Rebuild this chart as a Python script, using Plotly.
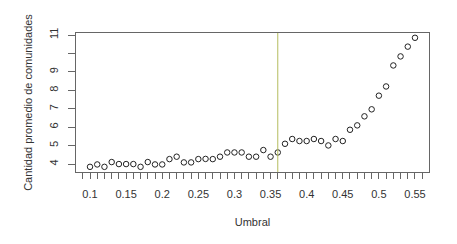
import plotly.graph_objects as go

umbral = [0.10, 0.11, 0.12, 0.13, 0.14, 0.15, 0.16, 0.17, 0.18, 0.19,
          0.20, 0.21, 0.22, 0.23, 0.24, 0.25, 0.26, 0.27, 0.28, 0.29,
          0.30, 0.31, 0.32, 0.33, 0.34, 0.35, 0.36, 0.37, 0.38, 0.39,
          0.40, 0.41, 0.42, 0.43, 0.44, 0.45, 0.46, 0.47, 0.48, 0.49,
          0.50, 0.51, 0.52, 0.53, 0.54, 0.55]
comunidades = [3.85, 3.98, 3.85, 4.11, 4.00, 4.00, 4.00, 3.85, 4.11, 3.98,
               3.98, 4.27, 4.40, 4.09, 4.09, 4.27, 4.28, 4.27, 4.40, 4.63,
               4.63, 4.63, 4.40, 4.40, 4.76, 4.40, 4.63, 5.10, 5.36, 5.25,
               5.25, 5.36, 5.25, 5.01, 5.36, 5.25, 5.86, 6.10, 6.59, 6.97,
               7.71, 8.21, 9.35, 9.84, 10.37, 10.85]
umbral_optimo = 0.36

x_tickvals = [0.10, 0.15, 0.20, 0.25, 0.30, 0.35, 0.40, 0.45, 0.50, 0.55]
x_ticktext = ["0.1", "0.15", "0.2", "0.25", "0.3", "0.35", "0.4", "0.45", "0.5", "0.55"]
y_tickvals = [4, 5, 6, 7, 8, 9, 10, 11]
y_ticktext = ["4", "5", "6", "7", "8", "9", "", "11"]

font_family = "Liberation Sans, Arial, sans-serif"
text_color = "#333333"
axis_color = "#666666"

fig = go.Figure()
fig.add_trace(go.Scatter(
    x=umbral, y=comunidades, mode="markers",
    marker=dict(symbol="circle-open", size=5.5, color="#222222", line=dict(width=1)),
    showlegend=False, hoverinfo="skip",
))

fig.add_shape(type="line", xref="x", yref="paper",
              x0=umbral_optimo, x1=umbral_optimo, y0=0, y1=1,
              line=dict(color="#b4bd5e", width=1))

# page body has an 8px default margin, so the figure is sized 8px smaller
fig.update_layout(
    width=449, height=236,
    margin=dict(l=68, r=28, t=25, b=72),
    paper_bgcolor="white", plot_bgcolor="white",
    font=dict(family=font_family, size=11, color=text_color),
    xaxis=dict(
        range=[0.0806, 0.5694],
        automargin=False,
        tickvals=x_tickvals, ticktext=x_ticktext,
        ticks="outside", ticklen=6, tickcolor=axis_color,
        minor=dict(dtick=0.01, tick0=0.10, ticks="outside", ticklen=6, tickcolor=axis_color),
        showline=True, mirror=True, linecolor=axis_color, linewidth=1,
        showgrid=False, zeroline=False,
        ticklabelstandoff=6,
        title=dict(text="Umbral", standoff=19, font=dict(size=11)),
    ),
    yaxis=dict(
        range=[3.57, 11.11],
        automargin=False,
        tickvals=y_tickvals, ticktext=y_ticktext,
        tickangle=-90,
        ticks="outside", ticklen=7, tickcolor=axis_color,
        showline=True, mirror=True, linecolor=axis_color, linewidth=1,
        showgrid=False, zeroline=False,
        ticklabelstandoff=6,
        title=dict(text="Cantidad promedio de comunidades", standoff=12, font=dict(size=11)),
    ),
)

fig.write_html("out.html")
